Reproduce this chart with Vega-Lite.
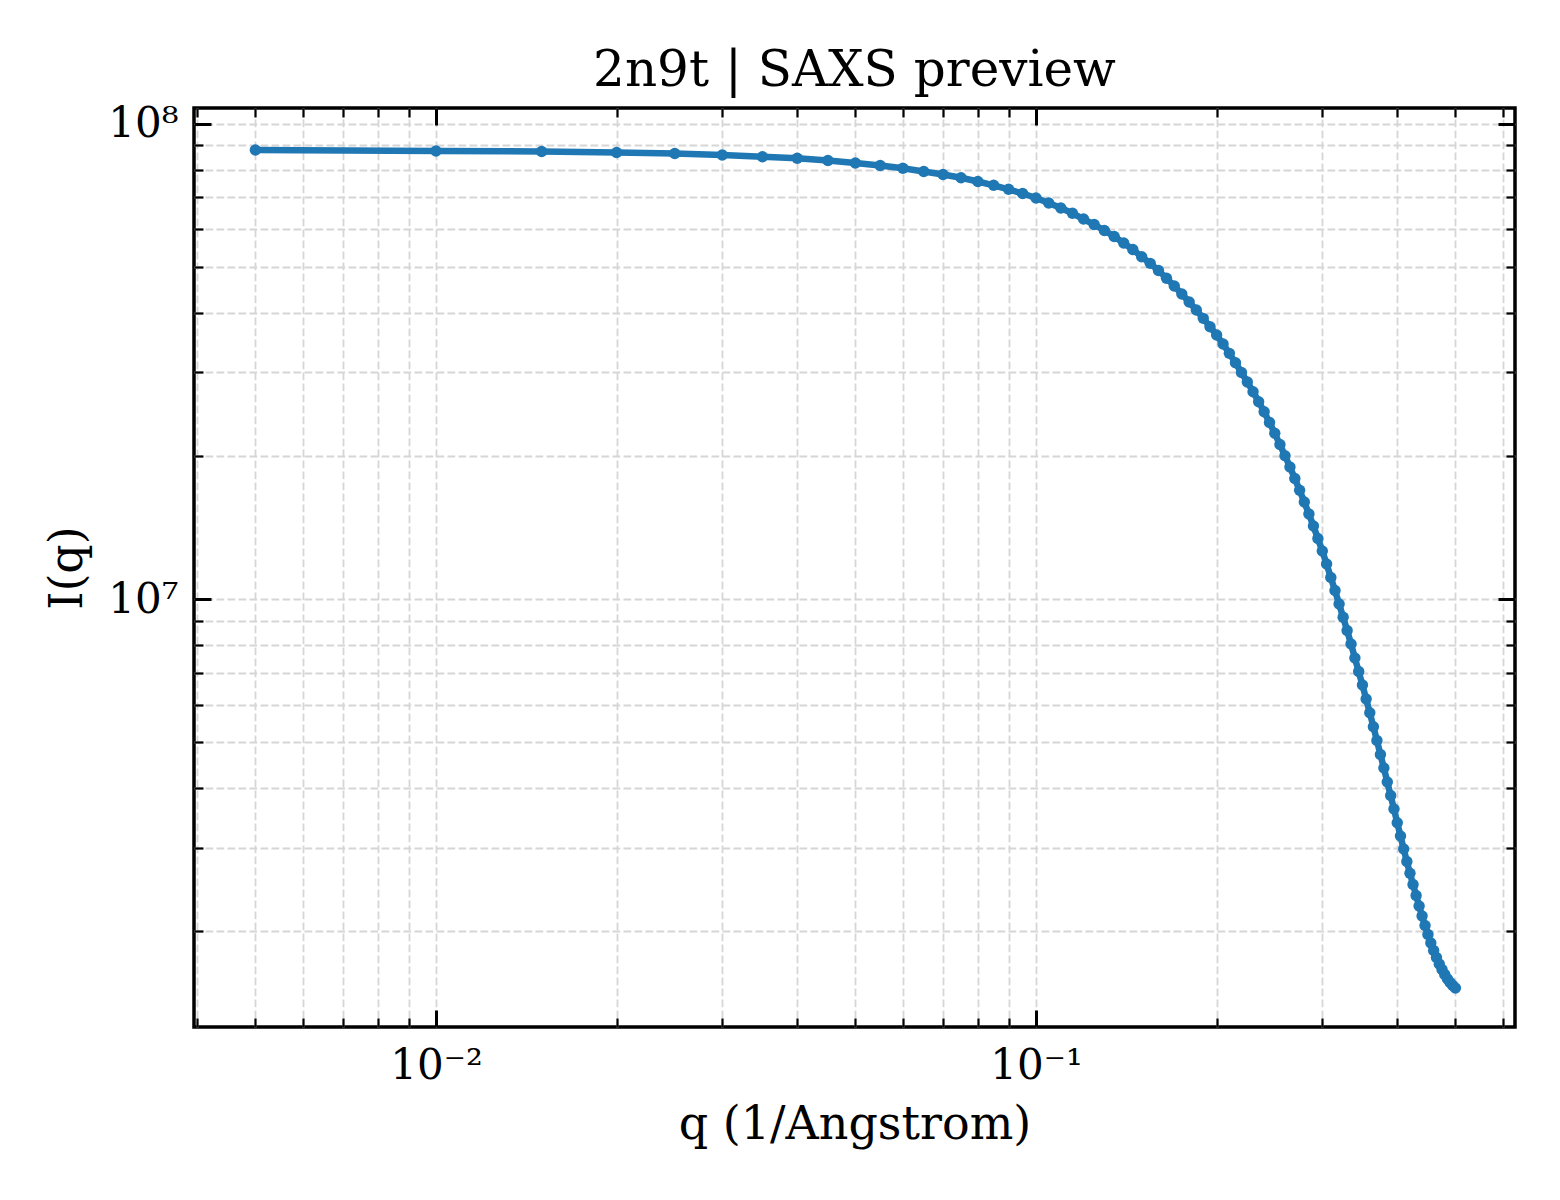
{
  "$schema": "https://vega.github.io/schema/vega-lite/v6.json",
  "description": "2n9t SAXS preview curve, I(q) against q on log-log axes",
  "autosize": {"type": "none"},
  "padding": {"left": 194, "top": 108, "right": 45, "bottom": 173},
  "width": 1321,
  "height": 919,
  "background": "white",
  "title": {
    "text": "2n9t | SAXS preview",
    "font": "DejaVu Serif",
    "fontSize": 50,
    "fontWeight": "normal",
    "color": "black",
    "anchor": "middle",
    "baseline": "alphabetic",
    "offset": -33
  },
  "data": {
    "values": [
      {"q": 0.005, "I": 87960000}, {"q": 0.01, "I": 87530000}, {"q": 0.015, "I": 87320000}, {"q": 0.02, "I": 86900000},
      {"q": 0.025, "I": 86480000}, {"q": 0.03, "I": 85850000}, {"q": 0.035, "I": 85150000}, {"q": 0.04, "I": 84490000},
      {"q": 0.045, "I": 83600000}, {"q": 0.05, "I": 82590000}, {"q": 0.055, "I": 81600000}, {"q": 0.06, "I": 80500000},
      {"q": 0.065, "I": 79260000}, {"q": 0.07, "I": 78120000}, {"q": 0.075, "I": 76880000}, {"q": 0.08, "I": 75510000},
      {"q": 0.085, "I": 74140000}, {"q": 0.09, "I": 72710000}, {"q": 0.095, "I": 71250000}, {"q": 0.1, "I": 69710000},
      {"q": 0.105, "I": 68050000}, {"q": 0.11, "I": 66420000}, {"q": 0.115, "I": 64740000}, {"q": 0.12, "I": 62970000},
      {"q": 0.125, "I": 61320000}, {"q": 0.13, "I": 59560000}, {"q": 0.135, "I": 57860000}, {"q": 0.14, "I": 56060000},
      {"q": 0.145, "I": 54330000}, {"q": 0.15, "I": 52460000}, {"q": 0.155, "I": 50810000}, {"q": 0.16, "I": 49070000},
      {"q": 0.165, "I": 47260000}, {"q": 0.17, "I": 45530000}, {"q": 0.175, "I": 43800000}, {"q": 0.18, "I": 42130000},
      {"q": 0.185, "I": 40530000}, {"q": 0.19, "I": 38930000}, {"q": 0.195, "I": 37380000}, {"q": 0.2, "I": 35910000},
      {"q": 0.205, "I": 34380000}, {"q": 0.21, "I": 32860000}, {"q": 0.215, "I": 31400000}, {"q": 0.22, "I": 29940000},
      {"q": 0.225, "I": 28600000}, {"q": 0.23, "I": 27290000}, {"q": 0.235, "I": 26000000}, {"q": 0.24, "I": 24770000},
      {"q": 0.245, "I": 23510000}, {"q": 0.25, "I": 22310000}, {"q": 0.255, "I": 21130000}, {"q": 0.26, "I": 20020000},
      {"q": 0.265, "I": 18950000}, {"q": 0.27, "I": 17920000}, {"q": 0.275, "I": 16930000}, {"q": 0.28, "I": 16000000},
      {"q": 0.285, "I": 15090000}, {"q": 0.29, "I": 14240000}, {"q": 0.295, "I": 13400000}, {"q": 0.3, "I": 12620000},
      {"q": 0.305, "I": 11850000}, {"q": 0.31, "I": 11100000}, {"q": 0.315, "I": 10420000}, {"q": 0.32, "I": 9761000},
      {"q": 0.325, "I": 9152000}, {"q": 0.33, "I": 8585000}, {"q": 0.335, "I": 8042000}, {"q": 0.34, "I": 7515000},
      {"q": 0.345, "I": 7039000}, {"q": 0.35, "I": 6594000}, {"q": 0.355, "I": 6162000}, {"q": 0.36, "I": 5766000},
      {"q": 0.365, "I": 5388000}, {"q": 0.37, "I": 5040000}, {"q": 0.375, "I": 4710000}, {"q": 0.38, "I": 4411000},
      {"q": 0.385, "I": 4122000}, {"q": 0.39, "I": 3862000}, {"q": 0.395, "I": 3617000}, {"q": 0.4, "I": 3385000},
      {"q": 0.405, "I": 3174000}, {"q": 0.41, "I": 2980000}, {"q": 0.415, "I": 2805000}, {"q": 0.42, "I": 2650000},
      {"q": 0.425, "I": 2510000}, {"q": 0.43, "I": 2380000}, {"q": 0.435, "I": 2262000}, {"q": 0.44, "I": 2154000},
      {"q": 0.445, "I": 2058000}, {"q": 0.45, "I": 1970000}, {"q": 0.455, "I": 1891000}, {"q": 0.46, "I": 1823000},
      {"q": 0.465, "I": 1762000}, {"q": 0.47, "I": 1708000}, {"q": 0.475, "I": 1663000}, {"q": 0.48, "I": 1623000},
      {"q": 0.485, "I": 1588000}, {"q": 0.49, "I": 1561000}, {"q": 0.495, "I": 1539000}, {"q": 0.5, "I": 1520000}
    ]
  },
  "layer": [
    {
      "mark": {"type": "line", "opacity": 0},
      "encoding": {
        "x": {
          "field": "q", "type": "quantitative",
          "scale": {"type": "log", "domain": [0.003951, 0.6285], "nice": false},
          "axis": {
            "orient": "bottom", "title": null, "labels": false, "grid": true,
            "values": [0.004, 0.005, 0.006, 0.007, 0.008, 0.009, 0.02, 0.03, 0.04, 0.05, 0.06, 0.07, 0.08, 0.09, 0.2, 0.3, 0.4, 0.5, 0.6],
            "tickSize": -9, "tickWidth": 2.2
          }
        },
        "y": {
          "field": "I", "type": "quantitative",
          "scale": {"type": "log", "domain": [1258700, 107800000], "nice": false},
          "axis": {
            "orient": "left", "title": null, "labels": false, "grid": true,
            "values": [2000000, 3000000, 4000000, 5000000, 6000000, 7000000, 8000000, 9000000, 20000000, 30000000, 40000000, 50000000, 60000000, 70000000, 80000000, 90000000],
            "tickSize": -9, "tickWidth": 2.2
          }
        }
      }
    },
    {
      "mark": {"type": "line", "opacity": 0},
      "encoding": {
        "x": {
          "field": "q", "type": "quantitative",
          "scale": {"type": "log", "domain": [0.003951, 0.6285], "nice": false},
          "axis": {
            "orient": "top", "title": null, "labels": false, "grid": false,
            "values": [0.004, 0.005, 0.006, 0.007, 0.008, 0.009, 0.02, 0.03, 0.04, 0.05, 0.06, 0.07, 0.08, 0.09, 0.2, 0.3, 0.4, 0.5, 0.6],
            "tickSize": -9, "tickWidth": 2.2
          }
        },
        "y": {
          "field": "I", "type": "quantitative",
          "scale": {"type": "log", "domain": [1258700, 107800000], "nice": false},
          "axis": {
            "orient": "right", "title": null, "labels": false, "grid": false,
            "values": [2000000, 3000000, 4000000, 5000000, 6000000, 7000000, 8000000, 9000000, 20000000, 30000000, 40000000, 50000000, 60000000, 70000000, 80000000, 90000000],
            "tickSize": -9, "tickWidth": 2.2
          }
        }
      }
    },
    {
      "mark": {"type": "line", "opacity": 0},
      "encoding": {
        "x": {
          "field": "q", "type": "quantitative",
          "scale": {"type": "log", "domain": [0.003951, 0.6285], "nice": false},
          "axis": {
            "orient": "top", "title": null, "labels": false, "grid": false,
            "values": [0.01, 0.1], "tickSize": -17, "tickWidth": 3
          }
        },
        "y": {
          "field": "I", "type": "quantitative",
          "scale": {"type": "log", "domain": [1258700, 107800000], "nice": false},
          "axis": {
            "orient": "right", "title": null, "labels": false, "grid": false,
            "values": [10000000, 100000000], "tickSize": -17, "tickWidth": 3
          }
        }
      }
    },
    {
      "mark": {"type": "line", "color": "#1f77b4", "strokeWidth": 6.5},
      "encoding": {
        "x": {
          "field": "q", "type": "quantitative",
          "scale": {"type": "log", "domain": [0.003951, 0.6285], "nice": false},
          "axis": {
            "orient": "bottom", "title": "q (1/Angstrom)", "grid": true,
            "values": [0.01, 0.1],
            "labelExpr": "datum.value < 0.05 ? '10⁻²' : '10⁻¹'",
            "tickSize": -17, "tickWidth": 3, "labelPadding": 35, "titlePadding": 16
          }
        },
        "y": {
          "field": "I", "type": "quantitative",
          "scale": {"type": "log", "domain": [1258700, 107800000], "nice": false},
          "axis": {
            "orient": "left", "title": "I(q)", "grid": true,
            "values": [10000000, 100000000],
            "labelExpr": "datum.value < 50000000 ? '10⁷' : '10⁸'",
            "tickSize": -17, "tickWidth": 3, "labelPadding": 33, "titlePadding": 16
          }
        }
      }
    },
    {
      "mark": {"type": "point", "filled": true, "color": "#1f77b4", "size": 130, "opacity": 1},
      "encoding": {
        "x": {"field": "q", "type": "quantitative", "scale": {"type": "log", "domain": [0.003951, 0.6285], "nice": false}, "axis": null},
        "y": {"field": "I", "type": "quantitative", "scale": {"type": "log", "domain": [1258700, 107800000], "nice": false}, "axis": null}
      }
    }
  ],
  "resolve": {"axis": {"x": "independent", "y": "independent"}},
  "config": {
    "view": {"stroke": "black", "strokeWidth": 3.5},
    "axis": {
      "domain": false,
      "tickColor": "black",
      "gridColor": "#d6d6d6",
      "gridDash": [7.7, 3.3],
      "gridWidth": 1.8,
      "labelFont": "DejaVu Serif",
      "labelFontSize": 42,
      "labelColor": "black",
      "labelFlush": false,
      "labelOverlap": false,
      "titleFont": "DejaVu Serif",
      "titleFontSize": 46,
      "titleFontWeight": "normal",
      "titleColor": "black"
    }
  }
}
